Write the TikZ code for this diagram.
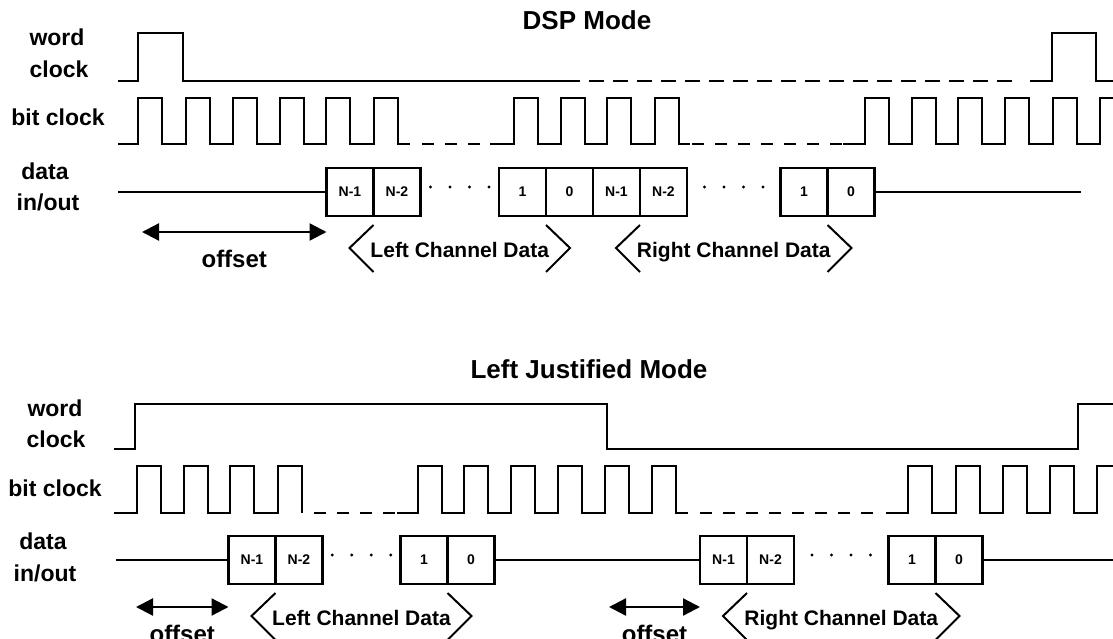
\documentclass[tikz,border=0pt]{standalone}
\usepackage{fontspec}
\setmainfont{Liberation Sans}
\usepackage{tikz}
\usetikzlibrary{calc}
\usetikzlibrary{arrows.meta,positioning}
\newcommand{\bsz}[1]{\fontsize{#1}{#1}\selectfont\bfseries}

\begin{document}
\begin{tikzpicture}[x=1pt,y=-1pt,
    wave/.style={line width=2.3pt},
    bitgap/.style={line width=2.3pt,dash pattern=on 12pt off 11pt},
    wordgap/.style={line width=2.3pt,dash pattern=on 15pt off 9pt,dash phase=15pt},
    bitbox/.style={draw,line width=2.3pt,minimum width=47pt,minimum height=48pt,
      inner sep=0pt,outer sep=0pt,font=\bsz{14}},
    chbrace/.style={line width=2pt},
    offarrow/.style={line width=2.3pt,
      {Triangle[length=17pt,width=17pt]}-{Triangle[length=17pt,width=17pt]}},
    lbl/.style={anchor=base,inner sep=0pt,font=\bsz{23}},
    chan/.style={anchor=base,inner sep=0pt,font=\bsz{21}},
    offtxt/.style={anchor=base,inner sep=0pt,font=\bsz{24}},
    modetitle/.style={anchor=base,inner sep=0pt,font=\bsz{26}}]
  \fill[white] (0,0) rectangle (1113,639);
  \useasboundingbox (0,0) rectangle (1113,639);
  \clip (0,0) rectangle (1113,639);

  % DSP mode
  \node[modetitle] (dTitle) at (587,30) {DSP Mode};
  \node[lbl] (dWord)  at (57,46)  {word};
  \node[lbl] (dClock) at (59,78)  {clock};
  \node[lbl] (dBit)   at (58,126) {bit clock};
  \node[lbl] (dData)  at (45,179) {data};
  \node[lbl] (dIO)    at (48,211) {in/out};

  \draw[wave] (118,81) -| (138,33) -| (183,81) -- (580,81);
  \draw[wordgap] (580,81) -- (1016,81);
  \draw[wave] (1030,81) -| (1052,33) -| (1096,81) -- (1115,81);

  \draw[wave] (118,144) foreach \r in {138,186,233,280,326,374}
    {-- (\r,144) -- (\r,98) -- (\r+24,98) -- (\r+24,144)} -- (410,144);
  \draw[bitgap] (422,144) -- (490,144);
  \draw[wave] (490,144) foreach \r in {514,561,607,655}
    {-- (\r,144) -- (\r,98) -- (\r+24,98) -- (\r+24,144)} -- (690,144);
  \draw[bitgap] (692,144) -- (843,144);
  \draw[wave] (843,144) foreach \r in {865,912,958,1005,1053}
    {-- (\r,144) -- (\r,98) -- (\r+24,98) -- (\r+24,144)}
    -- (1100,144) -- (1100,98) -- (1115,98);

  \node[bitbox] (dN1) at (350,192) {N-1};
  \node[bitbox, right=0pt of dN1] (dN2) {N-2};
  \node[bitbox] (d1) at (522.5,192) {1};
  \node[bitbox, right=0pt of d1] (d0) {0};
  \node[bitbox, right=0pt of d0] (dRN1) {N-1};
  \node[bitbox, right=0pt of dRN1] (dRN2) {N-2};
  \node[bitbox] (dR1) at (804,192) {1};
  \node[bitbox, right=0pt of dR1] (dR0) {0};

  \coordinate (dIn) at (118,192);
  \coordinate (dOut) at (1081,192);
  \draw[wave] (dIn) -- (dN1.west);
  \draw[wave] (dR0.east) -- (dOut);
  \foreach \k in {0,...,3} {
    \fill ($(dN2.east)!0.5!(d1.west)+(\k*19.5-29.25,-5)$) circle (1.6);
    \fill ($(dRN2.east)!0.5!(dR1.west)+(\k*19.5-29.25,-5)$) circle (1.6);
  }

  \coordinate (dOff) at (142,232);
  \draw[offarrow] (dOff) -- node[offtxt,yshift=-35pt] {offset} (dOff -| dN1.west);

  \draw[chbrace] ($(dN2.south west)+(0,9)$) -- ++(-24,23) -- ++(24,24);
  \draw[chbrace] ($(d1.south east)+(0,9)$) -- ++(24,23) -- ++(-24,24);
  \node[chan] (dLeft) at ($(dN2.south west)!0.5!(d1.south east)+(0,41)$) {Left Channel Data};
  \draw[chbrace] ($(dRN2.south west)+(0,9)$) -- ++(-24,23) -- ++(24,24);
  \draw[chbrace] ($(dR1.south east)+(0,9)$) -- ++(24,23) -- ++(-24,24);
  \node[chan] (dRight) at ($(dRN2.south west)!0.5!(dR1.south east)+(0,41)$) {Right Channel Data};

  % Left justified mode
  \node[modetitle] (jTitle) at (589,378) {Left Justified Mode};
  \node[lbl] (jWord)  at (55,416) {word};
  \node[lbl] (jClock) at (56,447) {clock};
  \node[lbl] (jBit)   at (55,496) {bit clock};
  \node[lbl] (jData)  at (43,549) {data};
  \node[lbl] (jIO)    at (45,581) {in/out};

  \draw[wave] (114,449) -| (135,404) -| (607,449) -| (1078,404) -- (1115,404);

  \draw[wave] (114,513) foreach \r in {137,184,230,278}
    {-- (\r,513) -- (\r,466) -- (\r+24,466) -- (\r+24,513)};
  \draw[bitgap] (314,513) -- (397,513);
  \draw[wave] (397,513) foreach \r in {418,464,511,558,605,652}
    {-- (\r,513) -- (\r,466) -- (\r+24,466) -- (\r+24,513)} -- (688,513);
  \draw[bitgap] (700,513) -- (878,513);
  \draw[wave] (886,513) foreach \r in {908,956,1003,1050}
    {-- (\r,513) -- (\r,466) -- (\r+24,466) -- (\r+24,513)}
    -- (1097,513) -- (1097,466) -- (1115,466);

  \node[bitbox] (jN1) at (252,560) {N-1};
  \node[bitbox, right=0pt of jN1] (jN2) {N-2};
  \node[bitbox] (j1) at (424,560) {1};
  \node[bitbox, right=0pt of j1] (j0) {0};
  \node[bitbox] (jRN1) at (723.5,560) {N-1};
  \node[bitbox, right=0pt of jRN1] (jRN2) {N-2};
  \node[bitbox] (jR1) at (912,560) {1};
  \node[bitbox, right=0pt of jR1] (jR0) {0};

  \coordinate (jIn) at (116,560);
  \coordinate (jOut) at (1115,560);
  \draw[wave] (jIn) -- (jN1.west);
  \draw[wave] (j0.east) -- (jRN1.west);
  \draw[wave] (jR0.east) -- (jOut);
  \foreach \k in {0,...,3} {
    \fill ($(jN2.east)!0.5!(j1.west)+(\k*19.5-29.25,-5)$) circle (1.6);
    \fill ($(jRN2.east)!0.5!(jR1.west)+(\k*19.5-29.25,-5)$) circle (1.6);
  }

  \coordinate (jOffL) at (136,607);
  \coordinate (jOffR) at (609,607);
  \draw[offarrow] (jOffL) -- node[offtxt,yshift=-35pt] {offset} (jOffL -| jN1.west);
  \draw[offarrow] (jOffR) -- node[offtxt,yshift=-35pt] {offset} (jOffR -| jRN1.west);

  \draw[chbrace] ($(jN2.south west)+(0,9)$) -- ++(-24,23) -- ++(24,24);
  \draw[chbrace] ($(j1.south east)+(0,9)$) -- ++(24,23) -- ++(-24,24);
  \node[chan] (jLeft) at ($(jN2.south west)!0.5!(j1.south east)+(0,41)$) {Left Channel Data};
  \draw[chbrace] ($(jRN2.south west)+(0,9)$) -- ++(-24,23) -- ++(24,24);
  \draw[chbrace] ($(jR1.south east)+(0,9)$) -- ++(24,23) -- ++(-24,24);
  \node[chan] (jRight) at ($(jRN2.south west)!0.5!(jR1.south east)+(0,41)$) {Right Channel Data};
\end{tikzpicture}
\end{document}
